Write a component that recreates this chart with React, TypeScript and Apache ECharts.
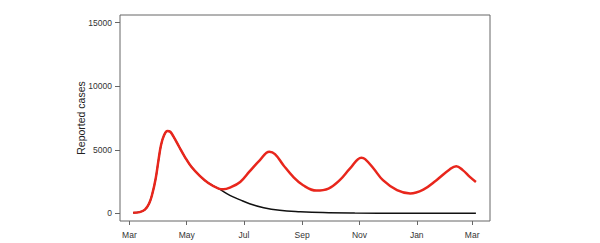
import React, { useEffect, useRef } from "react";
import * as echarts from "echarts";

// Days since 1 March (2020)
const tickDays = [0, 61, 122, 184, 245, 306, 365];
const tickLabels = ["Mar", "May", "Jul", "Sep", "Nov", "Jan", "Mar"];
const yTicks = [0, 5000, 10000, 15000];

const redDays = [4, 11, 16.5, 21, 24.5, 28, 31, 33.7, 37, 40.5, 43.5, 47, 52, 59, 66, 75, 84, 95, 100, 107, 118, 128, 139, 149, 155, 164, 174.5, 185, 199, 212, 224, 235, 247, 251, 260, 270, 285, 299, 313, 327, 341, 348, 355, 362.5, 369];
const redVals = [50, 100, 290, 770, 1560, 2740, 4190, 5370, 6160, 6480, 6420, 6030, 5370, 4450, 3660, 2950, 2390, 1950, 1900, 2030, 2470, 3300, 4190, 4840, 4660, 3790, 2870, 2210, 1790, 1950, 2610, 3530, 4380, 4270, 3530, 2610, 1820, 1560, 1870, 2610, 3450, 3710, 3400, 2870, 2470];

const blackDays = [4, 11, 16.5, 21, 24.5, 28, 31, 33.7, 37, 40.5, 43.5, 47, 52, 59, 66, 75, 84, 95, 107, 118, 128, 143, 160, 182, 206, 240, 290, 369];
const blackVals = [50, 100, 290, 770, 1560, 2740, 4190, 5370, 6160, 6480, 6420, 6030, 5370, 4450, 3660, 2950, 2390, 1950, 1420, 1060, 760, 440, 240, 130, 60, 25, 8, 2];

const pairs = (xs: number[], ys: number[]) => xs.map((x, i) => [x, ys[i]]);

export default function App() {
  const ref = useRef<HTMLDivElement>(null);
  useEffect(() => {
    if (!ref.current) return;
    const chart = echarts.init(ref.current, null, { renderer: "svg" });
    const font = "Liberation Sans";
    chart.setOption({
      animation: false,
      backgroundColor: "#fff",
      grid: {
        left: 120,
        right: 110,
        top: 15,
        bottom: 22,
        show: true,
        borderColor: "#666",
        borderWidth: 1,
      },
      xAxis: {
        type: "value",
        min: -10,
        max: 384,
        splitLine: { show: false },
        axisLine: { show: false, onZero: false },
        axisTick: {
          show: true,
          customValues: tickDays,
          length: 4,
          inside: false,
          lineStyle: { color: "#666", width: 1 },
        },
        axisLabel: {
          customValues: tickDays,
          formatter: (v: number) => {
            const i = tickDays.indexOf(v);
            return i >= 0 ? tickLabels[i] : "";
          },
          margin: 9,
          fontFamily: font,
          fontSize: 8.5,
          color: "#333",
        },
      },
      yAxis: {
        type: "value",
        min: -600,
        max: 15600,
        name: "Reported cases",
        nameLocation: "middle",
        nameGap: 34,
        nameMoveOverlap: false,
        nameTextStyle: { fontFamily: font, fontSize: 10.5, color: "#222" },
        splitLine: { show: false },
        axisLine: { show: false, onZero: false },
        axisTick: {
          show: true,
          customValues: yTicks,
          length: 5,
          inside: false,
          lineStyle: { color: "#666", width: 1 },
        },
        axisLabel: {
          customValues: yTicks,
          formatter: (v: number) => String(v),
          margin: 8,
          fontFamily: font,
          fontSize: 8.5,
          color: "#333",
        },
      },
      series: [
        {
          type: "line",
          data: pairs(blackDays, blackVals),
          smooth: 0.4,
          showSymbol: false,
          lineStyle: { color: "#111", width: 1.5 },
          z: 2,
        },
        {
          type: "line",
          data: pairs(redDays, redVals),
          smooth: 0.4,
          showSymbol: false,
          lineStyle: { color: "#e8261c", width: 2.5 },
          z: 3,
        },
      ],
    });
    return () => chart.dispose();
  }, []);
  return (
    <div
      ref={ref}
      style={{ position: "fixed", left: 0, top: 0, width: 600, height: 243 }}
    />
  );
}
